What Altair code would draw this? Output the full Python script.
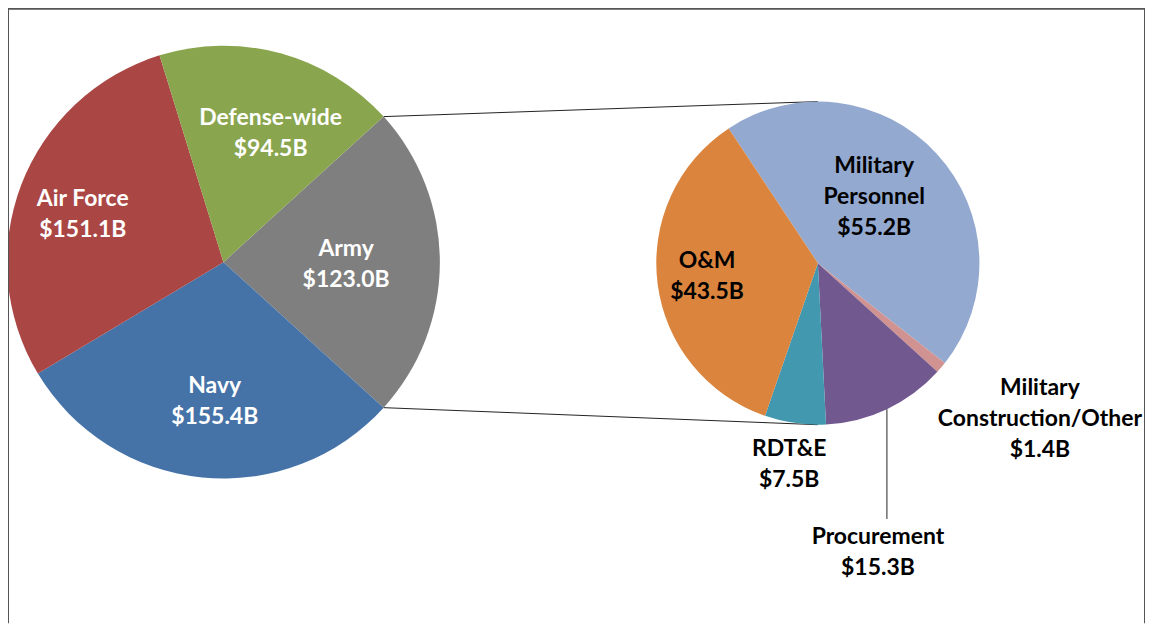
import math
import pandas as pd
import altair as alt

# ---------------- data ----------------
svc_names = ["Army", "Navy", "Air Force", "Defense-wide"]
svc_values = [123.0, 155.4, 151.1, 94.5]
svc_colors = ["#7F7F7F", "#4572A7", "#AA4643", "#89A54E"]

army_names = ["Military\nPersonnel", "Military\nConstruction/Other", "Procurement", "RDT&E", "O&M"]
army_values = [55.2, 1.4, 15.3, 7.5, 43.5]
army_colors = ["#93A9CF", "#D19392", "#71588F", "#4198AF", "#DB843D"]

# ---------------- layout ----------------
W, H = 1140, 616
L_CX, L_CY, L_R = 216, 254, 217
R_CX, R_CY, R_R = 812, 255, 162
R_START = math.radians(-33.5)
# label radius, dx, dy
svc_label_layout = [(123, 0, 2), (140, 5, 0), (151, 0, 6), (134, 12, 0)]
army_label_layout = [(89, -9, -6), (162, 99, 52), (162, -9, 144), (204, 0, 0), (112, 0, -1)]
LEADER_IDX, LEADER_LEN = 2, 110
FONT, FSIZE, LH = "Lato", 23, 31

total_l = sum(svc_values)
L_START = math.pi / 2 - math.pi * svc_values[0] / total_l


def angles(values, start):
    tot = sum(values)
    out, acc = [], 0.0
    for v in values:
        a0 = start + 2 * math.pi * acc / tot
        acc += v
        a1 = start + 2 * math.pi * acc / tot
        out.append((a0, a1))
    return out


def pt(cx, cy, r, a):
    return cx + r * math.sin(a), cy - r * math.cos(a)


left_df = pd.DataFrame({"name": svc_names, "value": svc_values,
                        "color": svc_colors, "order": range(len(svc_names))})
right_df = pd.DataFrame({"name": army_names, "value": army_values,
                         "color": army_colors, "order": range(len(army_names))})


def label_row(n, v, cx, cy, a0, a1, lay, tc):
    r, dx, dy = lay
    x, y = pt(cx, cy, r, (a0 + a1) / 2)
    text = f"{n}\n${v:.1f}B"
    nlines = text.count("\n") + 1
    # centre the whole text block on the anchor point
    y = y - (nlines - 1) * LH / 2
    return {"x": x + dx, "y": y + dy, "label": text, "tc": tc}


rows = []
for n, v, (a0, a1), lay in zip(svc_names, svc_values, angles(svc_values, L_START), svc_label_layout):
    rows.append(label_row(n, v, L_CX, L_CY, a0, a1, lay, "#FFFFFF"))
r_angles = angles(army_values, R_START)
for n, v, (a0, a1), lay in zip(army_names, army_values, r_angles, army_label_layout):
    rows.append(label_row(n, v, R_CX, R_CY, a0, a1, lay, "#000000"))
labels_df = pd.DataFrame(rows)

# connector lines: Army wedge edges -> top/bottom of the secondary pie
la0, la1 = angles(svc_values, L_START)[0]
p0 = pt(L_CX, L_CY, L_R, la0)
p1 = pt(L_CX, L_CY, L_R, la1)
lines_df = pd.DataFrame({
    "x": [p0[0], p1[0]], "y": [p0[1], p1[1]],
    "x2": [R_CX, R_CX], "y2": [R_CY - R_R, R_CY + R_R],
})
a0, a1 = r_angles[LEADER_IDX]
lx, ly = pt(R_CX, R_CY, R_R, (a0 + a1) / 2)
leader_df = pd.DataFrame({"x": [lx], "y": [ly], "x2": [lx], "y2": [ly + LEADER_LEN]})
lines_df = pd.concat([lines_df, leader_df], ignore_index=True)

left_pie = alt.Chart(left_df).mark_arc(outerRadius=L_R, strokeWidth=0).encode(
    theta=alt.Theta("value:Q", stack=True,
                    scale=alt.Scale(range=[L_START, L_START + 2 * math.pi])),
    order=alt.Order("order:Q"),
    color=alt.Color("color:N", scale=None),
    x=alt.value(L_CX), y=alt.value(L_CY),
)

right_pie = alt.Chart(right_df).mark_arc(outerRadius=R_R, strokeWidth=0).encode(
    theta=alt.Theta("value:Q", stack=True,
                    scale=alt.Scale(range=[R_START, R_START + 2 * math.pi])),
    order=alt.Order("order:Q"),
    color=alt.Color("color:N", scale=None),
    x=alt.value(R_CX), y=alt.value(R_CY),
)

lines = alt.Chart(lines_df).mark_rule(color="#222222", strokeWidth=1).encode(
    x=alt.X("x:Q", scale=None, axis=None), y=alt.Y("y:Q", scale=None, axis=None),
    x2="x2:Q", y2="y2:Q",
)

text = alt.Chart(labels_df).mark_text(
    font=FONT, fontSize=FSIZE, fontWeight="bold", lineBreak="\n", lineHeight=LH,
    align="center", baseline="middle",
).encode(
    x=alt.X("x:Q", scale=None, axis=None), y=alt.Y("y:Q", scale=None, axis=None),
    text="label:N", color=alt.Color("tc:N", scale=None),
)

border_top = alt.Chart(pd.DataFrame({"k": [0]})).mark_rule(color="#555555", strokeWidth=2).encode(
    x=alt.value(0), x2=alt.value(W), y=alt.value(0))
border_left = alt.Chart(pd.DataFrame({"k": [0]})).mark_rule(color="#555555", strokeWidth=2).encode(
    x=alt.value(0), y=alt.value(0), y2=alt.value(H))
border_right = alt.Chart(pd.DataFrame({"k": [0]})).mark_rule(color="#555555", strokeWidth=2).encode(
    x=alt.value(W), y=alt.value(0), y2=alt.value(H))

chart = alt.layer(
    lines, left_pie, right_pie, text, border_top, border_left, border_right
).resolve_scale(theta="independent", color="independent").properties(
    width=W, height=H, padding=0, autosize=alt.AutoSizeParams(type="none"),
).configure_view(stroke=None)

chart.save("out.html", embed_options={"renderer": "svg", "actions": False})
